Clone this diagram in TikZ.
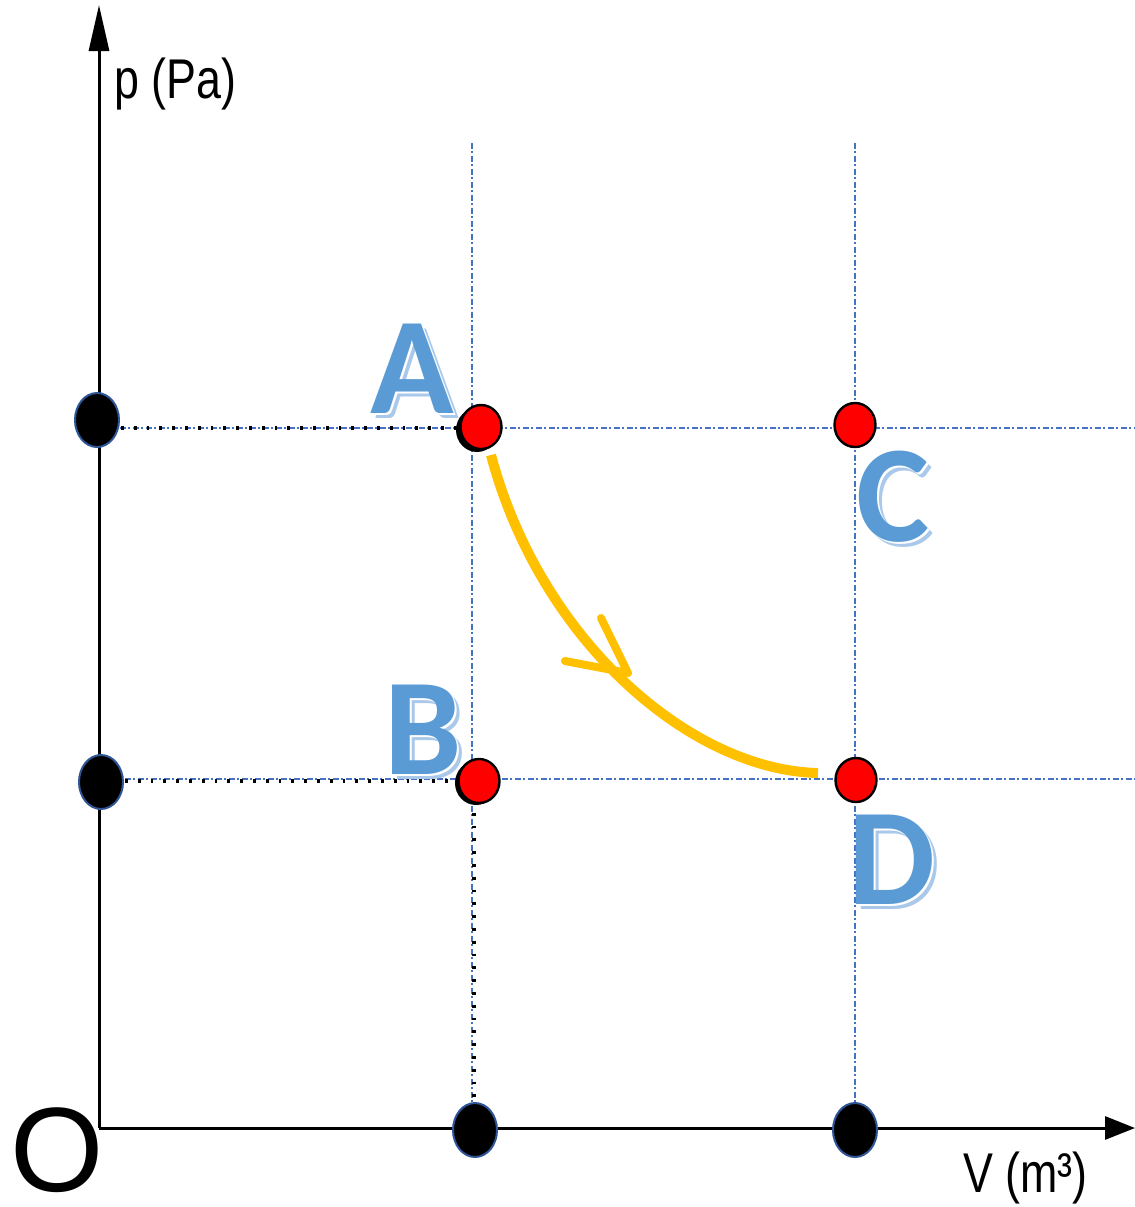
\documentclass[tikz,border=0pt]{standalone}
\usepackage{fontspec}
\setmainfont{Liberation Sans}
\newfontfamily\lblfont{Carlito}
\usetikzlibrary{arrows.meta,calc,shapes.geometric}
\definecolor{gridblue}{HTML}{4472C4}
\definecolor{lblblue}{HTML}{5B9BD5}
\definecolor{shadblue}{HTML}{A9C8EA}
\definecolor{curveyel}{HTML}{FFC000}
\definecolor{dotrim}{HTML}{2F5597}
\newcommand{\shadowletter}[1]{%
  \makebox[0pt][l]{\hspace{2.5pt}\raisebox{-2.5pt}{\color{shadblue}#1}}%
  \makebox[0pt][l]{\hspace{1.2pt}\raisebox{-1.2pt}{\color{white}#1}}%
  {\color{lblblue}#1}}
\begin{document}
\begin{tikzpicture}[x=0.5pt,y=-0.5pt,
  axis/.style={line width=1.5pt,black},
  gridl/.style={gridblue,line width=0.6pt,dash pattern=on 3pt off 1.2pt on 0.8pt off 1.5pt},
  blkdot/.style={black,line width=1.7pt,dash pattern=on 1.4pt off 5pt},
  axdot/.style={ellipse,fill=black,draw=dotrim,line width=1pt,minimum width=22pt,minimum height=27pt,inner sep=0},
  reddot/.style={ellipse,fill=red,draw=black,line width=1.2pt,minimum width=20.5pt,minimum height=22pt,inner sep=0},
  behind/.style={ellipse,fill=black,minimum width=21pt,minimum height=22pt,inner sep=0},
  letter/.style={font=\lblfont\bfseries\fontsize{69}{69}\selectfont,inner sep=0},
  curve/.style={curveyel,line width=5pt},
  curvearrow/.style={curveyel,line width=4pt,line cap=round,line join=round},
  axlabel/.style={inner sep=0,font=\fontsize{28}{28}\selectfont}
]
\useasboundingbox (0,0) rectangle (1135,1207);

% coordinates
\coordinate (O) at (99,1128);
\coordinate (ytip) at (99,5);
\coordinate (xtip) at (1135,1128);
\coordinate (g1t) at (472,143);
\coordinate (g1b) at (472,1128);
\coordinate (g2t) at (855,143);
\coordinate (g2b) at (855,1128);
\coordinate (h1l) at (120,428);
\coordinate (h1r) at (1135,428);
\coordinate (h2l) at (125,779);
\coordinate (h2r) at (1135,779);

% grid
\draw[gridl] (g1t) -- (g1b);
\draw[gridl] (g2t) -- (g2b);
\draw[gridl] (h1l) -- (h1r);
\draw[gridl] (h2l) -- (h2r);

% black dotted guides
\coordinate (b1l) at (121,428);
\coordinate (b1r) at (462,428);
\coordinate (b2l) at (125,781);
\coordinate (b2r) at (458,781);
\coordinate (b3t) at (474,800);
\coordinate (b3b) at (474,1104);
\draw[blkdot] (b1l) -- (b1r);
\draw[blkdot] (b2l) -- (b2r);
\draw[blkdot] (b3t) -- (b3b);

% axes
\draw[axis,-{Triangle[length=23pt,width=10pt]}] (O) -- (ytip);
\draw[axis,-{Triangle[length=15pt,width=11.5pt]}] (O) -- (xtip);

% curve
\node[reddot,draw=none,fill=none] (dA0) at (481,427) {};
\node[reddot,draw=none,fill=none] (dD0) at (856,780) {};
\draw[curve] ($(dA0)+(10,28)$) .. controls (540,640) and (690,770) .. ($(dD0)+(-38,-7)$);
\coordinate (arL) at (565,661);
\coordinate (arT) at (628,673);
\coordinate (arU) at (601,618);
\draw[curvearrow] (arL) -- (arT) -- (arU);

% axis dots
\node[axdot] (p1) at (97,420) {};
\node[axdot] (p2) at (101,782) {};
\node[axdot] (v1) at (475,1130) {};
\node[axdot] (v2) at (855,1130) {};

% red dots
\node[behind] (sA) at (477,430) {};
\node[behind] (sB) at (476,783) {};
\node[reddot] (dA) at (481,427) {};
\node[reddot] (dC) at (855,425) {};
\node[reddot] (dB) at (479,781) {};
\node[reddot] (dD) at (856,780) {};

% letters
\node[letter] (lA) at (412,371) {\shadowletter{A}};
\node[letter] (lC) at (893,499) {\shadowletter{C}};
\node[letter] (lB) at (423,732) {\shadowletter{B}};
\node[letter] (lD) at (892,862) {\shadowletter{D}};

% axis labels
\node[axlabel,anchor=base west] (plab) at (114,98) {\scalebox{0.8}[1]{p (Pa)}};
\node[axlabel,anchor=base west] (vlab) at (963,1192) {\scalebox{0.8}[1]{V (m³)}};
\node[inner sep=0,font=\fontsize{60}{60}\selectfont] (olab) at (57,1150) {O};
\end{tikzpicture}
\end{document}
